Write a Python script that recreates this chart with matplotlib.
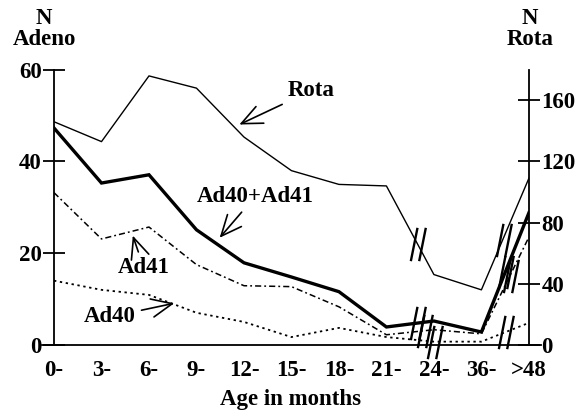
import numpy as np
import matplotlib
matplotlib.use('Agg')
import matplotlib.pyplot as plt
from matplotlib.path import Path

# age groups (months)
ages = ["0-", "3-", "6-", "9-", "12-", "15-", "18-", "21-", "24-", "36-", ">48"]
# number of cases
ad40_ad41 = [47.3, 35.3, 37.1, 25.1, 17.9, 14.8, 11.6, 3.9, 5.2, 2.8, 28.8]
ad41 = [33.2, 23.1, 25.7, 17.5, 12.9, 12.7, 8.3, 2.2, 3.3, 2.4, 23.5]
ad40 = [14.0, 12.0, 10.9, 7.0, 5.0, 1.7, 3.7, 1.7, 0.7, 0.7, 4.8]
rota = [146, 133, 176, 168, 136, 114, 105, 104, 46, 36, 109]

plt.rcParams['font.family'] = ['Liberation Serif', 'DejaVu Serif']
plt.rcParams['font.weight'] = 'bold'
fs = 16.5

fig = plt.figure(figsize=(5.87, 4.13), dpi=100)
ax = fig.add_axes([0.092, 0.165, 0.809, 0.666])
ax2 = ax.twinx()

x = np.arange(len(ages))
ax.plot(x, ad40_ad41, color='black', lw=2.4, solid_joinstyle='miter')
ax.plot(x, ad41, color='black', lw=1.1, linestyle=(0, (4, 2, 1.2, 2)))
ax.plot(x, ad40, color='black', lw=1.3, linestyle=(0, (1.3, 2)))
ax2.plot(x, rota, color='black', lw=1.0)

ax.set_xlim(0, 10)
ax.set_ylim(0, 60)
ax2.set_ylim(0, 180)
ax.set_yticks([0, 20, 40, 60])
ax2.set_yticks([0, 40, 80, 120, 160])
ax.set_xticks(x)
ax.set_xticklabels(ages, fontsize=fs)
ax.tick_params(axis='x', length=0, pad=11)
ax.tick_params(axis='y', direction='inout', length=16, width=1.3, labelsize=fs, pad=1)
ax2.tick_params(axis='y', direction='inout', length=16, width=1.3, labelsize=fs, pad=1)
for a in (ax, ax2):
    a.spines['top'].set_visible(False)
    for s in a.spines.values():
        s.set_linewidth(1.3)
ax2.spines['left'].set_visible(False)
ax2.spines['bottom'].set_visible(False)
ax.spines['right'].set_visible(False)
ax.spines['bottom'].set_bounds(-0.25, 10.25)
ax.spines['bottom'].set_clip_on(False)
ax.set_zorder(2)
ax.patch.set_visible(False)

# axis break marks
brk = Path([(-0.4, -1), (0.0, 1), (0.1, -1), (0.5, 1)],
           [Path.MOVETO, Path.LINETO, Path.MOVETO, Path.LINETO])

def mark(a, ys, i, frac):
    xm = i + frac
    ym = ys[i] + (ys[i + 1] - ys[i]) * frac
    a.plot([xm], [ym], marker=brk, markersize=24, color='black',
           markeredgewidth=1.7, clip_on=False, linestyle='none')

mark(ax2, rota, 7, 0.65)
mark(ax2, rota, 9, 0.45)
mark(ax, ad40_ad41, 7, 0.65)
mark(ax, ad40_ad41, 9, 0.5)
mark(ax, ad41, 7, 0.8)
mark(ax, ad41, 9, 0.6)
mark(ax, ad40, 7, 1.0)
mark(ax, ad40, 9, 0.5)

# labels with arrows
arr = dict(arrowstyle='->,head_length=0.9,head_width=0.4', color='black', lw=1.2)
ax.annotate("Rota", xy=(3.85, 47.8), xytext=(5.41, 55.4), fontsize=fs,
            ha='center', va='center', arrowprops=arr)
ax.annotate("Ad40+Ad41", xy=(3.45, 22.9), xytext=(4.23, 32.3), fontsize=fs,
            ha='center', va='center', arrowprops=arr)
ax.annotate("Ad41", xy=(1.64, 24.4), xytext=(1.89, 16.8), fontsize=fs,
            ha='center', va='center', arrowprops=arr)
ax.annotate("Ad40", xy=(2.59, 9.2), xytext=(1.18, 6.1), fontsize=fs,
            ha='center', va='center', arrowprops=arr)

fig.text(44 / 587, 1 - 29 / 413, "N\nAdeno", fontsize=fs, ha='center', va='center',
         linespacing=1.05)
fig.text(530 / 587, 1 - 29 / 413, "N\nRota", fontsize=fs, ha='center', va='center',
         linespacing=1.05)
fig.text(290 / 587, 1 - 400 / 413, "Age in months", fontsize=fs, ha='center', va='center')

fig.savefig("out.png", dpi=100)
